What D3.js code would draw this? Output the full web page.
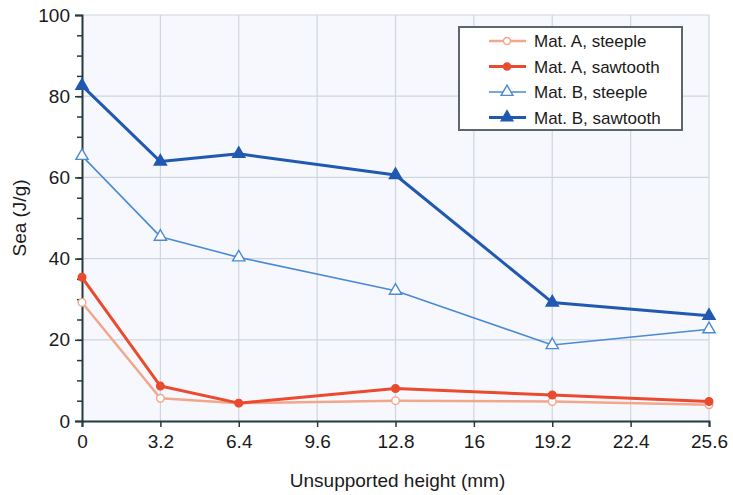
<!DOCTYPE html>
<html>
<head>
<meta charset="utf-8">
<script src="https://cdn.jsdelivr.net/npm/d3@7"></script>
<style>
  body { margin: 0; background: #fff; }
  text { font-family: "Liberation Sans", Arial, sans-serif; fill: #1a1a1a; }
</style>
</head>
<body>
<svg width="733" height="495"></svg>
<script>
// x positions (unsupported height, mm)
var heights = [0, 3.2, 6.4, 12.8, 19.2, 25.6];
var xTicks = [0, 3.2, 6.4, 9.6, 12.8, 16, 19.2, 22.4, 25.6];
var yTicks = [0, 20, 40, 60, 80, 100];

// Sea values (J/g)
var matASteeple  = [29.2, 5.6, 4.4, 5.0, 4.8, 4.0];
var matASawtooth = [35.4, 8.6, 4.4, 8.0, 6.4, 4.8];
var matBSteeple  = [65.3, 45.4, 40.3, 32.1, 18.7, 22.6];
var matBSawtooth = [82.6, 63.9, 65.8, 60.6, 29.2, 25.9];

var seriesNames = ["Mat. A, steeple", "Mat. A, sawtooth", "Mat. B, steeple", "Mat. B, sawtooth"];

var series = [
  {name: seriesNames[0], values: matASteeple,  color: "#f3a68c", width: 2.5, sym: d3.symbolCircle, fill: false},
  {name: seriesNames[1], values: matASawtooth, color: "#ea4a2e", width: 3,   sym: d3.symbolCircle, fill: true},
  {name: seriesNames[2], values: matBSteeple,  color: "#4a8ad6", width: 1.6, sym: d3.symbolTriangle, fill: false},
  {name: seriesNames[3], values: matBSawtooth, color: "#2159b0", width: 3,   sym: d3.symbolTriangle, fill: true}
];

var svg = d3.select("svg");
var margin = {left: 82, right: 24, top: 15, bottom: 74};
var width = 733 - margin.left - margin.right,
    height = 495 - margin.top - margin.bottom;

var x = d3.scaleLinear().domain([0, 25.6]).range([0, width]);
var y = d3.scaleLinear().domain([0, 100]).range([height, 0]);

var g = svg.append("g").attr("transform", "translate(" + margin.left + "," + margin.top + ")");

// plot background
g.append("rect")
  .attr("width", width).attr("height", height)
  .attr("fill", "#f7f8fd");

// grid
g.append("g").selectAll("line").data(xTicks.slice(1)).enter().append("line")
  .attr("x1", function(d) { return x(d); }).attr("x2", function(d) { return x(d); })
  .attr("y1", 0).attr("y2", height)
  .attr("stroke", "#cdd6de").attr("stroke-width", 1.2);
g.append("g").selectAll("line").data(yTicks.slice(1)).enter().append("line")
  .attr("y1", function(d) { return y(d); }).attr("y2", function(d) { return y(d); })
  .attr("x1", 0).attr("x2", width)
  .attr("stroke", "#cdd6de").attr("stroke-width", 1.2);

// axes
var xAxis = g.append("g")
  .attr("transform", "translate(0," + height + ")")
  .call(d3.axisBottom(x).tickValues(xTicks).tickFormat(function(d) { return d; }).tickSize(6).tickPadding(8));
var yMinor = g.append("g")
  .call(d3.axisLeft(y).tickValues(d3.range(5, 100, 5)).tickSize(5).tickFormat(""));
var yAxis = g.append("g")
  .call(d3.axisLeft(y).tickValues(yTicks).tickSize(7).tickPadding(5));

[xAxis, yAxis, yMinor].forEach(function(a) {
  a.select(".domain").attr("stroke", "#25393f").attr("stroke-width", 2);
  a.selectAll(".tick line").attr("stroke", "#25393f").attr("stroke-width", 1.5);
  a.selectAll("text").style("font-size", "19px").attr("fill", "#1a1a1a");
});
yMinor.select(".domain").remove();

// lines + markers
var line = d3.line()
  .x(function(d, i) { return x(heights[i]); })
  .y(function(d) { return y(d); });

series.forEach(function(s) {
  g.append("path")
    .datum(s.values)
    .attr("d", line)
    .attr("fill", "none")
    .attr("stroke", s.color)
    .attr("stroke-width", s.width)
    .attr("stroke-linejoin", "round");
  g.append("g").selectAll("path").data(s.values).enter().append("path")
    .attr("transform", function(d, i) { return "translate(" + x(heights[i]) + "," + y(d) + ")"; })
    .attr("d", d3.symbol().type(s.sym).size(s.sym === d3.symbolTriangle ? 65 : 45))
    .attr("fill", s.fill ? s.color : "#fff")
    .attr("stroke", s.color)
    .attr("stroke-width", 1.4);
});

// axis titles
svg.append("text")
  .attr("transform", "translate(26," + (margin.top + height / 2) + ") rotate(-90)")
  .attr("text-anchor", "middle")
  .style("font-size", "19px")
  .text("Sea (J/g)");
svg.append("text")
  .attr("x", margin.left + width / 2 + 2)
  .attr("y", 487)
  .attr("text-anchor", "middle")
  .style("font-size", "19px")
  .text("Unsupported height (mm)");

// legend
var legend = svg.append("g").attr("transform", "translate(459,27)");
legend.append("rect")
  .attr("width", 223).attr("height", 103)
  .attr("fill", "#fff").attr("stroke", "#5d6668").attr("stroke-width", 2);
series.forEach(function(s, i) {
  var ly = 14 + i * 25.5;
  legend.append("line")
    .attr("x1", 30).attr("x2", 67).attr("y1", ly).attr("y2", ly)
    .attr("stroke", s.color).attr("stroke-width", s.width);
  legend.append("path")
    .attr("transform", "translate(48," + ly + ")")
    .attr("d", d3.symbol().type(s.sym).size(s.sym === d3.symbolTriangle ? 60 : 40))
    .attr("fill", s.fill ? s.color : "#fff")
    .attr("stroke", s.color)
    .attr("stroke-width", 1.4);
  legend.append("text")
    .attr("x", 75).attr("y", ly + 6)
    .style("font-size", "17px")
    .text(s.name);
});
</script>
</body>
</html>
